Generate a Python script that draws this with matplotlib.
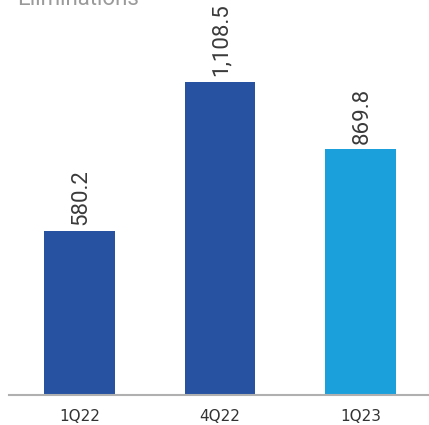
import matplotlib
matplotlib.use("Agg")
import matplotlib.pyplot as plt

quarters = ['1Q22', '4Q22', '1Q23']
values = [580.2, 1108.5, 869.8]
labels = ['580.2', '1,108.5', '869.8']
colors = ['#2751a1', '#2751a1', '#1ba0db']

fig = plt.figure(figsize=(4.29, 4.25), dpi=100)
ax = fig.add_axes([9/429, 1 - 395/425, 420/429, 395/425])

x = range(len(quarters))
bars = ax.bar(x, values, width=0.504, color=colors, zorder=2)
for b, lab in zip(bars, labels):
    ax.text(b.get_x() + b.get_width()/2 + 0.01, b.get_height() + 20, lab,
            rotation=90, ha='center', va='bottom', fontsize=16,
            family='Roboto', color='#3a3a3a')

ax.set_xlim(-0.5, 2.486)
ax.set_ylim(0, 1398)
for s in ['top', 'right', 'left']:
    ax.spines[s].set_visible(False)
ax.spines['bottom'].set_color('#b0b0b0')
ax.spines['bottom'].set_linewidth(1.5)
ax.set_yticks([])
ax.set_xticks(list(x))
ax.set_xticklabels(quarters, fontsize=11, color='#333333')
ax.tick_params(axis='x', length=0, pad=10)

fig.text(17/429, 1 - 5/425, 'Eliminations', fontsize=16, color='#9a9a9a',
         family='Roboto', ha='left', va='baseline')

fig.savefig('out.png', dpi=100)
